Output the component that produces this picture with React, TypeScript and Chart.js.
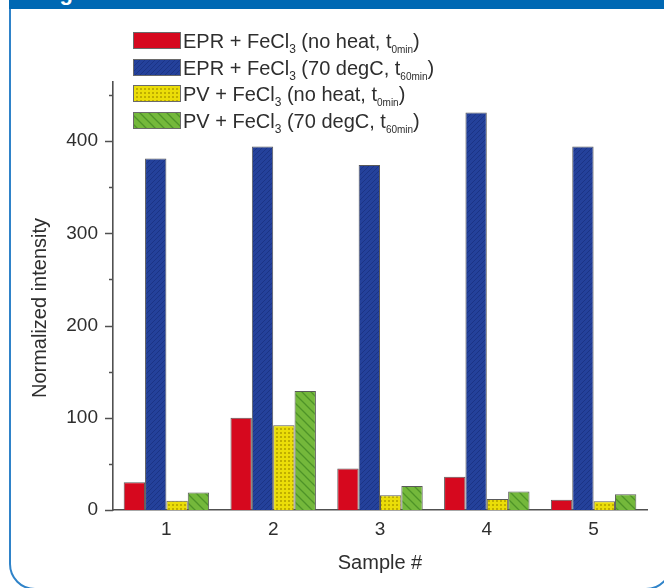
import React, { useEffect, useRef } from 'react';
import { Chart, registerables } from 'chart.js';

Chart.register(...registerables);

// ---- data ----
const categories = ['1', '2', '3', '4', '5'];
const seriesNames = [
  'EPR + FeCl₃ (no heat, t₀ₘᵢₙ)',
  'EPR + FeCl₃ (70 degC, t₆₀ₘᵢₙ)',
  'PV + FeCl₃ (no heat, t₀ₘᵢₙ)',
  'PV + FeCl₃ (70 degC, t₆₀ₘᵢₙ)',
];
const eprNoHeat = [30, 100, 45, 36, 11];
const eprHeated = [381, 394, 374, 431, 394];
const pvNoHeat = [10, 92, 16, 12, 9.5];
const pvHeated = [19, 129, 26, 20, 17];
const yMin = 0;
const yMax = 464;
const yMinorStep = 50;
const yLabelStep = 100;
const xTitle = 'Sample #';
const yTitle = 'Normalized intensity';
const figureTitle = 'Figure 5';

const FONT = '"Liberation Sans", Arial, Helvetica, sans-serif';
const TEXT = '#2e2e2e';
const AXIS = '#505050';

const SUB_MAP: Record<string, string> = {
  '₀': '0', '₁': '1', '₂': '2', '₃': '3', '₄': '4', '₅': '5', '₆': '6', '₇': '7', '₈': '8', '₉': '9',
  'ₘ': 'm', 'ᵢ': 'i', 'ₙ': 'n',
};

function splitSub(label: string): { t: string; sub: boolean }[] {
  const out: { t: string; sub: boolean }[] = [];
  for (const ch of Array.from(label)) {
    const isSub = ch in SUB_MAP;
    const c = isSub ? SUB_MAP[ch] : ch;
    const last = out[out.length - 1];
    if (last && last.sub === isSub) last.t += c;
    else out.push({ t: c, sub: isSub });
  }
  return out;
}

function makeFill(kind: string): CanvasPattern | string {
  const c = document.createElement('canvas');
  const ctx = c.getContext('2d');
  if (!ctx) return '#888';
  if (kind === 'red') {
    return '#d6081e';
  }
  if (kind === 'blue') {
    const s = 5;
    c.width = s; c.height = s;
    ctx.fillStyle = '#24419b';
    ctx.fillRect(0, 0, s, s);
    ctx.strokeStyle = '#1b3485';
    ctx.lineWidth = 1;
    ctx.beginPath();
    ctx.moveTo(-1, s + 1); ctx.lineTo(s + 1, -1);
    ctx.moveTo(-1, 1); ctx.lineTo(1, -1);
    ctx.moveTo(s - 1, s + 1); ctx.lineTo(s + 1, s - 1);
    ctx.stroke();
  } else if (kind === 'yellow') {
    const s = 4;
    c.width = s; c.height = s;
    ctx.fillStyle = '#ebdd08';
    ctx.fillRect(0, 0, s, s);
    ctx.fillStyle = '#bfae00';
    ctx.fillRect(0, 0, 2, 2);
  } else {
    const s = 9;
    c.width = s; c.height = s;
    ctx.fillStyle = '#74b83b';
    ctx.fillRect(0, 0, s, s);
    ctx.strokeStyle = '#4e9328';
    ctx.lineWidth = 1.3;
    ctx.beginPath();
    ctx.moveTo(-1, -1); ctx.lineTo(s + 1, s + 1);
    ctx.moveTo(s - 1, -1); ctx.lineTo(s + 1, 1);
    ctx.moveTo(-1, s - 1); ctx.lineTo(1, s + 1);
    ctx.stroke();
  }
  return ctx.createPattern(c, 'repeat') as CanvasPattern;
}

const decorPlugin = {
  id: 'decor',
  afterDraw(chart: any) {
    const ctx: CanvasRenderingContext2D = chart.ctx;
    const y = chart.scales.y;
    const area = chart.chartArea;
    ctx.save();
    // y tick marks (major / minor), outward
    ctx.strokeStyle = AXIS;
    ctx.lineWidth = 1.5;
    y.ticks.forEach((t: any) => {
      const py = Math.round(y.getPixelForValue(t.value)) + 0.5;
      const len = t.value % yLabelStep === 0 ? 8 : 4;
      ctx.beginPath();
      ctx.moveTo(area.left - len, py);
      ctx.lineTo(area.left, py);
      ctx.stroke();
    });
    // y axis title (placed slightly below the axis middle, as in the original)
    ctx.save();
    ctx.translate(40, (area.top + area.bottom) / 2 + 12);
    ctx.rotate(-Math.PI / 2);
    ctx.font = `20px ${FONT}`;
    ctx.fillStyle = TEXT;
    ctx.textAlign = 'center';
    ctx.textBaseline = 'middle';
    ctx.fillText(yTitle, 0, 0);
    ctx.restore();
    // legend
    const boxX = 133, boxW = 48, boxH = 17, top0 = 32, rowH = 26.7, textX = 183;
    chart.data.datasets.forEach((ds: any, i: number) => {
      const by = Math.round(top0 + i * rowH);
      ctx.fillStyle = ds.backgroundColor;
      ctx.fillRect(boxX, by, boxW, boxH);
      ctx.strokeStyle = '#6a6a6a';
      ctx.lineWidth = 1;
      ctx.strokeRect(boxX + 0.5, by + 0.5, boxW - 1, boxH - 1);
      const base = by + boxH / 2 + 7;
      let x = textX;
      ctx.fillStyle = TEXT;
      ctx.textBaseline = 'alphabetic';
      ctx.textAlign = 'left';
      for (const seg of splitSub(ds.label)) {
        if (seg.sub) {
          const small = seg.t.length > 1;
          ctx.font = `${small ? 10 : 12}px ${FONT}`;
          ctx.fillText(seg.t, x, base + 5);
          x += ctx.measureText(seg.t).width;
        } else {
          ctx.font = `20px ${FONT}`;
          ctx.fillText(seg.t, x, base);
          x += ctx.measureText(seg.t).width;
        }
      }
    });
    ctx.restore();
  },
};

export default function App() {
  const ref = useRef<HTMLCanvasElement | null>(null);

  useEffect(() => {
    if (!ref.current) return;
    const fills = [makeFill('red'), makeFill('blue'), makeFill('yellow'), makeFill('green')];
    const values = [eprNoHeat, eprHeated, pvNoHeat, pvHeated];
    const chart = new Chart(ref.current, {
      type: 'bar',
      data: {
        labels: categories,
        datasets: values.map((v, i) => ({
          label: seriesNames[i],
          data: v,
          backgroundColor: fills[i] as any,
          borderColor: '#5a5a5a',
          borderWidth: 1,
          categoryPercentage: 0.8,
          barPercentage: 1.0,
        })),
      },
      options: {
        responsive: false,
        animation: false,
        events: [],
        layout: { padding: { left: 0, top: 82, right: 17, bottom: 0 } },
        plugins: { legend: { display: false }, tooltip: { enabled: false }, title: { display: false } },
        scales: {
          x: {
            type: 'category',
            offset: true,
            grid: { display: false, drawTicks: false },
            border: { display: true, color: AXIS, width: 1.6 },
            ticks: { padding: 8, color: TEXT, font: { family: FONT, size: 19 } },
            title: {
              display: true,
              text: xTitle,
              color: TEXT,
              font: { family: FONT, size: 20 },
              padding: { top: 0, bottom: 13 },
            },
            afterFit: (s: any) => { s.height = 78; },
          },
          y: {
            type: 'linear',
            min: yMin,
            max: yMax,
            grid: { display: false, drawTicks: false },
            border: { display: true, color: AXIS, width: 1.6 },
            ticks: {
              stepSize: yMinorStep,
              includeBounds: false,
              autoSkip: false,
              padding: 15,
              color: TEXT,
              font: { family: FONT, size: 19 },
              callback: (v: any) => (Number(v) % yLabelStep === 0 ? String(v) : ''),
            },
            title: { display: false, text: yTitle },
            afterFit: (s: any) => { s.width = 113; },
          },
        },
      },
      plugins: [decorPlugin],
    });
    return () => chart.destroy();
  }, []);

  return (
    <div style={{ position: 'fixed', left: 0, top: 0, width: 664, height: 588, background: '#ffffff', overflow: 'hidden' }}>
      <div
        style={{
          position: 'absolute', left: 9, top: -20, width: 663, height: 610,
          border: '2px solid #2f83c9', borderRadius: 26, boxSizing: 'border-box',
        }}
      />
      <div
        style={{
          position: 'absolute', left: 9, top: 0, width: 660, height: 9,
          background: '#0068b3', overflow: 'hidden',
        }}
      >
        <span
          style={{
            position: 'absolute', left: 31, top: -20, lineHeight: '22px',
            font: `bold 22px ${FONT}`, color: '#ffffff', whiteSpace: 'nowrap',
          }}
        >
          {figureTitle}
        </span>
      </div>
      <canvas ref={ref} width={664} height={588} style={{ position: 'absolute', left: 0, top: 0 }} />
    </div>
  );
}
